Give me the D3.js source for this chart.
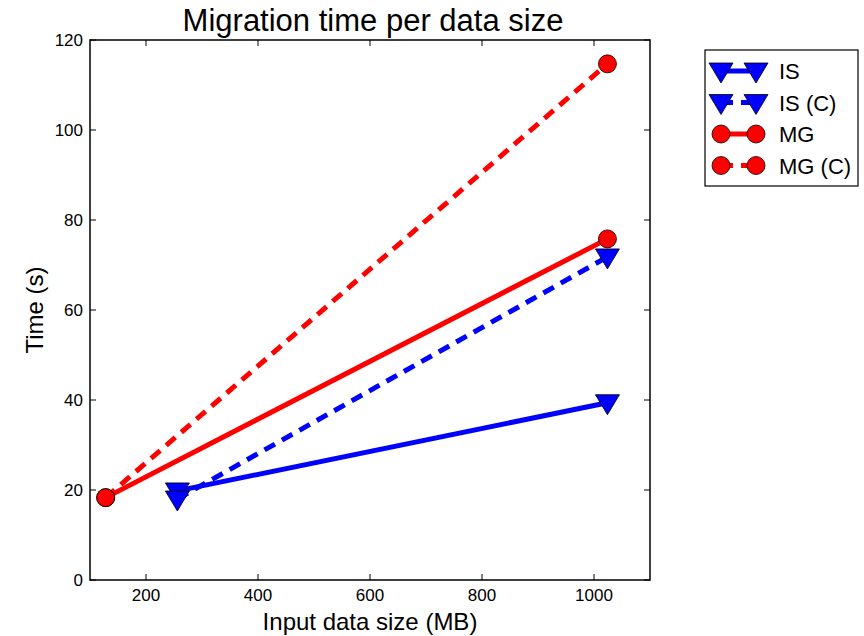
<!DOCTYPE html>
<html lang="en">
<head>
<meta charset="utf-8">
<title>Migration time</title>
<script src="https://cdn.jsdelivr.net/npm/d3@7"></script>
<style>
  html, body { margin:0; padding:0; background:#fff; }
  svg text { font-family: "Liberation Sans", Arial, sans-serif; }
</style>
</head>
<body>
<svg id="chart" width="864" height="636"></svg>
<script>
// data
var sizes = [128, 256, 1024];
var isTimes = [null, 19.8, 39.4];
var isCTimes = [null, 18.0, 71.8];
var mgTimes = [18.3, null, 75.8];
var mgCTimes = [18.3, null, 114.7];
var xTicks = [200, 400, 600, 800, 1000];
var yTicks = [0, 20, 40, 60, 80, 100, 120];

var series = [
  {name: "IS", values: isTimes, color: "#0000ff", dash: null, marker: "tri"},
  {name: "IS (C)", values: isCTimes, color: "#0000ff", dash: "12,8", marker: "tri"},
  {name: "MG", values: mgTimes, color: "#ff0000", dash: null, marker: "circle"},
  {name: "MG (C)", values: mgCTimes, color: "#ff0000", dash: "12,8", marker: "circle"}
];

// plot box (note: "top" is reserved on window)
var pL = 90, pR = 650, pT = 40, pB = 580;
var svg = d3.select("#chart");

var x = d3.scaleLinear().domain([100, 1100]).range([pL, pR]);
var y = d3.scaleLinear().domain([0, 120]).range([pB, pT]);

// ticks (inward, all four sides)
var tickLen = 6;
var axes = svg.append("g");
axes.selectAll(".xt").data(xTicks).enter().append("line")
  .attr("x1", d => x(d)).attr("x2", d => x(d))
  .attr("y1", pB).attr("y2", pB - tickLen)
  .attr("stroke", "#000");
axes.selectAll(".xtt").data(xTicks).enter().append("line")
  .attr("x1", d => x(d)).attr("x2", d => x(d))
  .attr("y1", pT).attr("y2", pT + tickLen)
  .attr("stroke", "#000");
axes.selectAll(".yt").data(yTicks).enter().append("line")
  .attr("x1", pL).attr("x2", pL + tickLen)
  .attr("y1", d => y(d)).attr("y2", d => y(d))
  .attr("stroke", "#000");
axes.selectAll(".ytr").data(yTicks).enter().append("line")
  .attr("x1", pR).attr("x2", pR - tickLen)
  .attr("y1", d => y(d)).attr("y2", d => y(d))
  .attr("stroke", "#000");

axes.selectAll(".xl").data(xTicks).enter().append("text")
  .attr("x", d => x(d)).attr("y", pB + 21)
  .attr("text-anchor", "middle").attr("font-size", 17)
  .text(d => d);
axes.selectAll(".yl").data(yTicks).enter().append("text")
  .attr("x", pL - 7).attr("y", d => y(d) + 6)
  .attr("text-anchor", "end").attr("font-size", 17)
  .text(d => d);

// lines and markers
var line = d3.line()
  .x(d => x(d[0])).y(d => y(d[1]));

function drawMarker(g, kind, cx, cy, color) {
  if (kind === "circle") {
    g.append("circle").attr("cx", cx).attr("cy", cy).attr("r", 9)
      .attr("fill", color).attr("stroke", "#000").attr("stroke-width", 0.8);
  } else {
    g.append("path").attr("d", "M-12,-8L12,-8L0,12Z")
      .attr("transform", "translate(" + cx + "," + cy + ")")
      .attr("fill", color).attr("stroke", "#000").attr("stroke-width", 0.8);
  }
}

var plot = svg.append("g");
series.forEach(function(s) {
  var pts = sizes.map((v, i) => [v, s.values[i]]).filter(d => d[1] != null);
  plot.append("path").datum(pts)
    .attr("d", line)
    .attr("fill", "none")
    .attr("stroke", s.color)
    .attr("stroke-width", 5)
    .attr("stroke-dasharray", s.dash);
});
series.forEach(function(s) {
  var pts = sizes.map((v, i) => [v, s.values[i]]).filter(d => d[1] != null);
  pts.forEach(p => drawMarker(plot, s.marker, x(p[0]), y(p[1]), s.color));
});

// frame
svg.append("rect").attr("x", pL).attr("y", pT)
  .attr("width", pR - pL).attr("height", pB - pT)
  .attr("fill", "none").attr("stroke", "#000").attr("stroke-width", 1.5);

// titles
svg.append("text").attr("x", 373).attr("y", 31)
  .attr("text-anchor", "middle").attr("font-size", 31)
  .text("Migration time per data size");
svg.append("text").attr("x", 370).attr("y", 630)
  .attr("text-anchor", "middle").attr("font-size", 24)
  .text("Input data size (MB)");
svg.append("text")
  .attr("transform", "translate(43," + (pT + pB) / 2 + ") rotate(-90)")
  .attr("text-anchor", "middle").attr("font-size", 24)
  .text("Time (s)");

// legend
var lg = svg.append("g");
lg.append("rect").attr("x", 705).attr("y", 50).attr("width", 153).attr("height", 136)
  .attr("fill", "#fff").attr("stroke", "#000").attr("stroke-width", 1.2);
series.forEach(function(s, i) {
  var ly = 71 + i * 31.5;
  lg.append("line").attr("x1", 721).attr("x2", 756).attr("y1", ly).attr("y2", ly)
    .attr("stroke", s.color).attr("stroke-width", 5)
    .attr("stroke-dasharray", s.dash ? "12,8" : null);
  drawMarker(lg, s.marker, 721, ly, s.color);
  drawMarker(lg, s.marker, 756, ly, s.color);
  lg.append("text").attr("x", 779).attr("y", ly + 8).attr("font-size", 22).text(s.name);
});
</script>
</body>
</html>
